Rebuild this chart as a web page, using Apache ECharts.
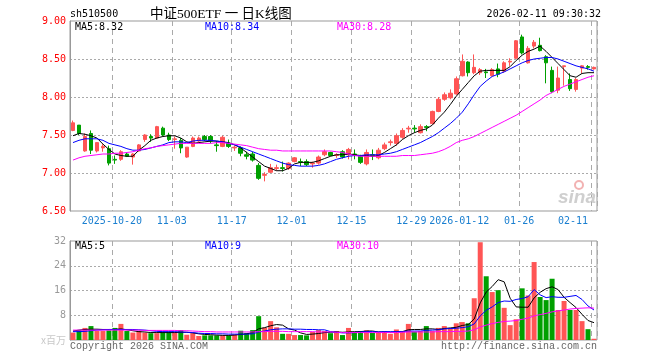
<!DOCTYPE html>
<html><head><meta charset="utf-8">
<script src="https://cdn.jsdelivr.net/npm/echarts@6/dist/echarts.min.js"></script>
<style>html,body{margin:0;padding:0;background:#fff}#c{width:660px;height:360px}</style>
</head><body><div id="c"></div>
<script>
const dates = [
'2025-10-09','2025-10-10','2025-10-13','2025-10-14','2025-10-15','2025-10-16','2025-10-17',
'2025-10-20','2025-10-21','2025-10-22','2025-10-23','2025-10-24',
'2025-10-27','2025-10-28','2025-10-29','2025-10-30','2025-10-31',
'2025-11-03','2025-11-04','2025-11-05','2025-11-06','2025-11-07',
'2025-11-10','2025-11-11','2025-11-12','2025-11-13','2025-11-14',
'2025-11-17','2025-11-18','2025-11-19','2025-11-20','2025-11-21',
'2025-11-24','2025-11-25','2025-11-26','2025-11-27','2025-11-28',
'2025-12-01','2025-12-02','2025-12-03','2025-12-04','2025-12-05',
'2025-12-08','2025-12-09','2025-12-10','2025-12-11','2025-12-12',
'2025-12-15','2025-12-16','2025-12-17','2025-12-18','2025-12-19',
'2025-12-22','2025-12-23','2025-12-24','2025-12-25','2025-12-26',
'2025-12-29','2025-12-30','2025-12-31',
'2026-01-05','2026-01-06','2026-01-07','2026-01-08','2026-01-09',
'2026-01-12','2026-01-13','2026-01-14','2026-01-15','2026-01-16',
'2026-01-19','2026-01-20','2026-01-21','2026-01-22','2026-01-23',
'2026-01-26','2026-01-27','2026-01-28','2026-01-29','2026-01-30',
'2026-02-02','2026-02-03','2026-02-04','2026-02-05','2026-02-06',
'2026-02-09','2026-02-10','2026-02-11'];

const tickDates  = ['2025-10-20','2025-11-03','2025-11-17','2025-12-01','2025-12-15','2025-12-29','2026-01-12','2026-01-26','2026-02-11'];
const tickLabels = ['2025-10-20','11-03','11-17','12-01','12-15','12-29','2026-01-12','01-26','02-11'];

const opens = [
7.56,7.63,7.29,7.52,7.29,7.33,7.32,7.18,7.18,7.25,
7.21,7.29,7.44,7.48,7.46,7.59,7.50,7.44,7.43,7.21,
7.35,7.42,7.48,7.48,7.37,7.35,7.39,7.33,7.33,7.24,
7.25,7.10,6.97,7.01,7.06,7.07,7.06,7.15,7.15,7.15,
7.12,7.13,7.24,7.27,7.23,7.28,7.24,7.25,7.22,7.12,
7.24,7.20,7.32,7.40,7.39,7.47,7.58,7.59,7.53,7.61,
7.65,7.81,7.97,7.99,8.04,8.28,8.46,8.32,8.32,8.33,
8.28,8.37,8.34,8.46,8.51,8.79,8.45,8.67,8.68,8.53,
8.35,8.09,8.40,8.23,8.10,8.38,8.40,8.37];
const closes = [
7.66,7.52,7.48,7.30,7.40,7.35,7.13,7.17,7.28,7.22,
7.25,7.37,7.50,7.46,7.61,7.50,7.44,7.45,7.33,7.34,
7.46,7.46,7.44,7.42,7.36,7.47,7.35,7.34,7.26,7.22,
7.17,6.93,6.98,7.07,7.07,7.06,7.13,7.20,7.14,7.11,
7.13,7.21,7.28,7.23,7.24,7.21,7.31,7.24,7.14,7.27,
7.23,7.30,7.37,7.41,7.49,7.56,7.59,7.58,7.61,7.60,
7.81,7.97,8.03,8.05,8.24,8.47,8.32,8.39,8.36,8.32,
8.36,8.30,8.45,8.47,8.74,8.58,8.64,8.72,8.61,8.45,
8.07,8.25,8.41,8.11,8.23,8.41,8.39,8.39];
const lows = [
7.55,7.50,7.28,7.25,7.27,7.28,7.10,7.12,7.16,7.21,
7.11,7.28,7.41,7.41,7.45,7.48,7.42,7.32,7.26,7.20,
7.34,7.40,7.42,7.39,7.28,7.34,7.33,7.29,7.22,7.18,
7.15,6.91,6.89,7.00,7.03,7.02,7.04,7.14,7.09,7.09,
7.07,7.11,7.22,7.22,7.20,7.19,7.18,7.18,7.12,7.10,
7.17,7.18,7.30,7.36,7.36,7.45,7.53,7.53,7.52,7.55,
7.64,7.80,7.95,7.97,8.03,8.27,8.27,8.30,8.29,8.25,
8.27,8.26,8.32,8.41,8.50,8.56,8.44,8.64,8.60,8.18,
8.05,8.05,8.15,8.08,8.07,8.31,8.36,8.36];
const highs = [
7.69,7.63,7.52,7.56,7.40,7.38,7.36,7.23,7.30,7.27,
7.26,7.38,7.51,7.51,7.62,7.61,7.53,7.48,7.46,7.34,
7.48,7.48,7.50,7.50,7.42,7.49,7.44,7.36,7.35,7.28,
7.28,7.13,7.01,7.12,7.11,7.15,7.14,7.21,7.19,7.18,
7.15,7.23,7.31,7.28,7.26,7.30,7.33,7.31,7.24,7.31,
7.31,7.33,7.40,7.44,7.52,7.59,7.62,7.63,7.64,7.63,
7.82,8.00,8.06,8.10,8.27,8.56,8.47,8.56,8.38,8.37,
8.38,8.44,8.47,8.51,8.75,8.82,8.67,8.75,8.78,8.55,
8.40,8.40,8.41,8.31,8.25,8.42,8.42,8.40];

const volumes = [
2.4,3.1,3.9,4.5,2.9,2.9,3.1,3.9,5.2,2.9,
2.4,2.9,2.4,2.2,2.2,2.7,2.7,2.4,3.2,1.7,
2.2,1.3,1.5,1.5,1.5,1.5,1.5,1.8,3.0,2.2,
3.2,7.7,4.0,6.1,4.1,2.0,2.0,1.6,1.6,1.5,
2.6,3.2,2.9,2.2,2.9,1.6,3.9,2.4,2.9,3.1,
2.3,2.4,2.8,2.0,3.4,2.9,5.2,2.7,2.9,4.5,
2.9,3.9,4.5,3.9,5.4,5.8,5.4,13.5,31.6,20.6,
15.5,16.1,10.4,4.8,6.7,16.7,14.4,25.2,13.9,12.9,
19.8,9.7,12.6,9.7,9.7,6.1,3.5,0.4];

const ma5 = [
7.49,7.52,7.51,7.49,7.46,7.38,7.31,7.25,7.23,7.22,
7.22,7.30,7.36,7.43,7.46,7.48,7.49,7.49,7.46,7.41,
7.39,7.40,7.41,7.42,7.42,7.41,7.40,7.37,7.33,7.27,
7.21,7.15,7.09,7.06,7.03,7.03,7.06,7.12,7.14,7.14,
7.14,7.16,7.19,7.22,7.24,7.24,7.25,7.24,7.23,7.23,
7.22,7.23,7.27,7.32,7.37,7.44,7.49,7.53,7.56,7.58,
7.63,7.72,7.80,7.90,8.01,8.10,8.19,8.28,8.34,8.35,
8.35,8.35,8.35,8.40,8.48,8.55,8.60,8.63,8.67,8.60,
8.52,8.44,8.36,8.28,8.26,8.31,8.32,8.32];
const ma10 = [
7.40,7.43,7.45,7.45,7.45,7.43,7.39,7.37,7.35,7.32,
7.30,7.30,7.31,7.33,7.35,7.37,7.40,7.41,7.41,7.40,
7.42,7.43,7.43,7.43,7.42,7.41,7.39,7.37,7.34,7.31,
7.28,7.25,7.22,7.19,7.16,7.13,7.11,7.10,7.09,7.09,
7.09,7.10,7.12,7.15,7.18,7.20,7.22,7.23,7.23,7.24,
7.24,7.24,7.25,7.26,7.28,7.31,7.34,7.37,7.40,7.44,
7.48,7.53,7.59,7.65,7.72,7.80,7.91,8.03,8.14,8.21,
8.27,8.30,8.33,8.37,8.41,8.45,8.48,8.50,8.51,8.52,
8.52,8.50,8.47,8.44,8.41,8.39,8.37,8.34];
const ma30 = [
7.17,7.20,7.22,7.23,7.24,7.25,7.25,7.26,7.26,7.27,
7.28,7.30,7.32,7.33,7.35,7.36,7.37,7.38,7.39,7.39,
7.39,7.39,7.39,7.39,7.40,7.40,7.39,7.38,7.37,7.36,
7.34,7.32,7.31,7.30,7.30,7.29,7.29,7.29,7.29,7.29,
7.29,7.29,7.29,7.29,7.28,7.27,7.25,7.23,7.22,7.22,
7.22,7.22,7.22,7.22,7.22,7.23,7.23,7.23,7.24,7.25,
7.26,7.28,7.31,7.35,7.40,7.43,7.45,7.48,7.52,7.56,
7.60,7.64,7.68,7.72,7.76,7.81,7.86,7.91,7.96,8.02,
8.06,8.10,8.14,8.17,8.20,8.23,8.26,8.28];

const vma5 = [
2.9,3.2,3.4,3.5,3.5,3.4,3.4,3.4,3.6,3.3,
3.0,2.7,2.6,2.4,2.4,2.4,2.4,2.4,2.5,2.5,
2.3,2.0,1.8,1.7,1.6,1.5,1.5,1.6,1.8,2.0,
2.4,3.6,4.0,4.6,5.0,4.8,3.6,3.2,2.3,1.8,
1.9,2.1,2.4,2.5,2.6,2.5,2.6,2.7,2.7,2.9,
2.9,2.6,2.6,2.5,2.6,2.7,3.3,3.4,3.4,3.6,
3.6,3.4,3.7,3.9,4.1,4.7,5.0,6.8,12.0,15.5,
17.3,19.5,18.8,13.5,10.7,10.6,10.6,13.6,15.4,16.6,
17.2,16.3,13.8,12.1,10.5,8.3,6.3,5.6];
const vma10 = [
2.7,2.7,2.8,3.0,3.2,3.3,3.4,3.4,3.4,3.4,
3.4,3.3,3.2,3.0,2.8,2.7,2.7,2.7,2.6,2.5,
2.4,2.2,2.1,2.1,2.0,2.0,1.9,1.9,1.9,1.9,
2.0,2.6,2.9,3.3,3.5,3.6,3.6,3.5,3.5,3.4,
3.4,3.3,3.3,2.7,2.5,2.3,2.3,2.4,2.6,2.7,
2.7,2.6,2.7,2.7,2.7,2.7,2.9,2.9,2.9,3.1,
3.2,3.3,3.6,3.7,3.8,4.0,4.3,5.2,7.8,9.6,
10.7,12.1,12.6,12.5,13.1,13.4,14.0,16.3,14.6,13.7,
14.0,13.8,13.8,14.1,14.4,13.1,11.0,9.7];
const vma30 = [
3.2,3.2,3.2,3.2,3.2,3.2,3.2,3.2,3.2,3.2,
3.2,3.2,3.1,3.1,3.1,3.1,3.1,3.1,3.0,3.0,
2.9,2.8,2.7,2.7,2.6,2.6,2.6,2.6,2.6,2.6,
2.6,2.7,2.7,2.8,2.8,2.8,2.7,2.7,2.7,2.7,
2.7,2.6,2.6,2.6,2.5,2.4,2.4,2.4,2.4,2.4,
2.4,2.4,2.4,2.4,2.4,2.5,2.6,2.6,2.6,2.6,
2.6,2.7,2.7,2.7,2.8,2.8,2.9,3.3,4.2,4.8,
5.3,5.7,6.0,6.1,6.3,6.7,7.1,7.8,8.2,8.6,
9.1,9.4,9.7,10.0,10.2,10.3,10.4,10.3];

const UP = '#ff5555', DOWN = '#00a000';
const C5 = '#000000', C10 = '#0000ff', C30 = '#ff00ff';
const mono = '"DejaVu Sans Mono", monospace';
const courier = '"Liberation Mono", monospace';

const candle = dates.map((d, i) => [opens[i], closes[i], lows[i], highs[i]]);
const volData = volumes.map((v, i) => ({ value: v, itemStyle: { color: closes[i] >= opens[i] ? UP : DOWN } }));
const tickIdx = new Set(tickDates.map(d => dates.indexOf(d)));
const labelOf = {};
tickDates.forEach((d, k) => { labelOf[d] = tickLabels[k]; });
const last = a => a[a.length - 1];

const splitX = { show: true, interval: (i) => tickIdx.has(i), lineStyle: { color: '#aaaaaa', type: [5, 4], width: 1 } };
const splitY = { show: true, showMinLine: false, showMaxLine: false, lineStyle: { color: '#aaaaaa', type: [2, 2], width: 1 } };
const lineS = (name, data, color, xi) => ({
  name, type: 'line', data, xAxisIndex: xi, yAxisIndex: xi, symbol: 'none', showSymbol: false,
  lineStyle: { color, width: 1 }, itemStyle: { color }, z: 5, silent: true
});
const txt = (x, y, text, fill, font, align) => ({
  type: 'text', x, y, z: 100, silent: true,
  style: { text, fill, font, textAlign: align || 'left', textVerticalAlign: 'middle' }
});

const chart = echarts.init(document.getElementById('c'));
chart.setOption({
  animation: false,
  backgroundColor: '#ffffff',
  grid: [
    { left: 70, right: 63, top: 21, height: 190, show: true, borderColor: '#999999', borderWidth: 1 },
    { left: 70, right: 63, top: 241, height: 99, show: true, borderColor: '#999999', borderWidth: 1 }
  ],
  xAxis: [
    { type: 'category', gridIndex: 0, data: dates, boundaryGap: true,
      axisLine: { show: false }, axisTick: { show: false },
      axisLabel: { interval: (i) => tickIdx.has(i), formatter: v => labelOf[v] || '',
        color: '#1a7fd0', fontFamily: mono, fontSize: 10, margin: 5, padding: [0, 6, 0, 0], alignMaxLabel: 'right' },
      splitLine: splitX },
    { type: 'category', gridIndex: 1, data: dates, boundaryGap: true,
      axisLine: { show: false }, axisTick: { show: false }, axisLabel: { show: false },
      splitLine: splitX }
  ],
  yAxis: [
    { type: 'value', gridIndex: 0, min: 6.5, max: 9, interval: 0.5,
      axisLine: { show: true, lineStyle: { color: '#999999' } }, axisTick: { show: false },
      axisLabel: { color: '#ff0000', fontFamily: mono, fontSize: 10, margin: 4, formatter: v => v.toFixed(2) },
      splitLine: splitY },
    { type: 'value', gridIndex: 1, min: 0, max: 32, interval: 8,
      axisLine: { show: true, lineStyle: { color: '#999999' } }, axisTick: { show: false },
      axisLabel: { color: '#999999', fontFamily: mono, fontSize: 10, margin: 4, formatter: v => v === 0 ? '' : String(v) },
      splitLine: splitY }
  ],
  series: [
    { name: 'K', type: 'candlestick', data: candle, xAxisIndex: 0, yAxisIndex: 0, barWidth: 4,
      itemStyle: { color: UP, color0: DOWN, borderColor: UP, borderColor0: DOWN, borderWidth: 1 }, z: 3, silent: true },
    lineS('MA5', ma5, C5, 0), lineS('MA10', ma10, C10, 0), lineS('MA30', ma30, C30, 0),
    { name: 'VOL', type: 'bar', data: volData, xAxisIndex: 1, yAxisIndex: 1, barWidth: 5, z: 3, silent: true },
    lineS('VMA5', vma5, C5, 1), lineS('VMA10', vma10, C10, 1), lineS('VMA30', vma30, C30, 1)
  ],
  graphic: [
    txt(70, 14, 'sh510500', '#000', '10px ' + mono),
    txt(150, 14, '中证500ETF 一 日K线图', '#000', '13.5px "Liberation Serif", "Noto Sans CJK SC"'),
    txt(601, 14, '2026-02-11 09:30:32', '#000', '10px ' + mono, 'right'),
    txt(75, 27, 'MA5:' + last(ma5).toFixed(2), C5, '10px ' + mono),
    txt(205, 27, 'MA10:' + last(ma10).toFixed(2), C10, '10px ' + mono),
    txt(337, 27, 'MA30:' + last(ma30).toFixed(2), C30, '10px ' + mono),
    txt(75, 246, 'MA5:' + Math.floor(last(vma5)), C5, '10px ' + mono),
    txt(205, 246, 'MA10:' + Math.floor(last(vma10)), C10, '10px ' + mono),
    txt(337, 246, 'MA30:' + Math.floor(last(vma30)), C30, '10px ' + mono),
    txt(66, 340, 'x百万', '#c8c8c8', '10px "Noto Sans CJK SC"', 'right'),
    txt(70, 346, 'Copyright 2026 SINA.COM', '#666666', '10px ' + courier),
    txt(597, 346, 'http://finance.sina.com.cn', '#666666', '10px ' + courier, 'right'),
    txt(596, 198, 'sina', '#cfcfcf', 'italic bold 19px "Liberation Sans"', 'right'),
    { type: 'circle', z: 100, silent: true, shape: { cx: 579, cy: 185, r: 4 }, style: { fill: 'none', stroke: '#f2b2b2', lineWidth: 2 } }
  ]
});
</script>
</body></html>
